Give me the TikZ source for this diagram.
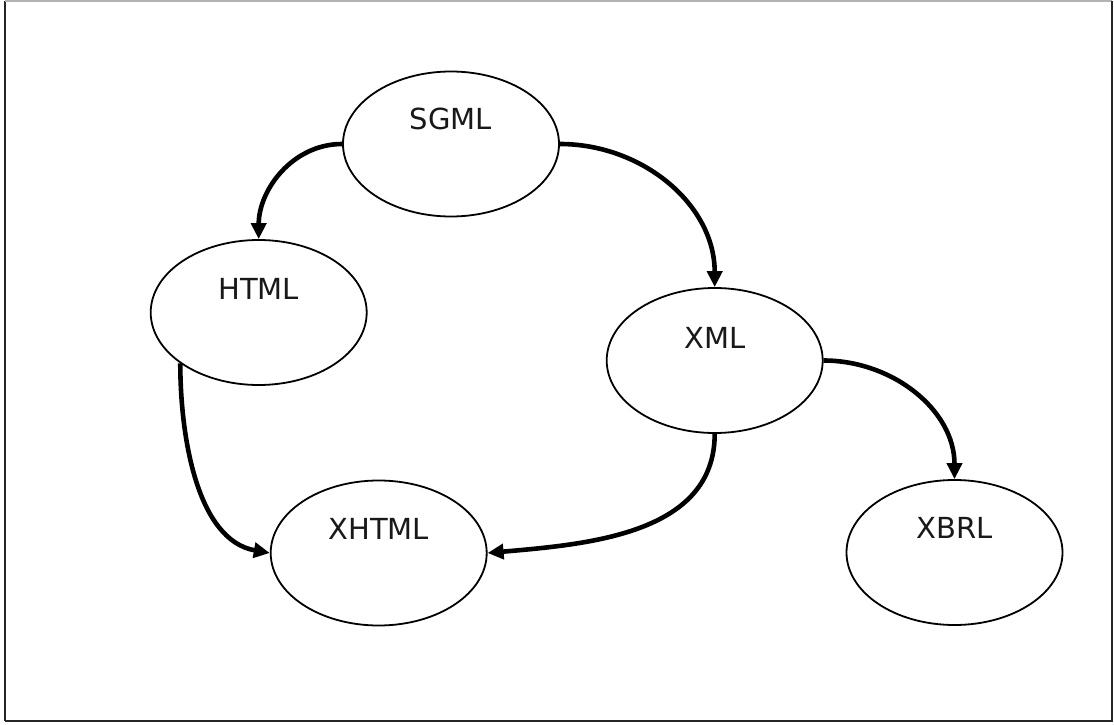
\documentclass[tikz,border=0pt]{standalone}
\usepackage{fontspec}
\setmainfont{DejaVu Sans}
\usetikzlibrary{shapes.geometric,arrows.meta}
\tikzset{
  bubble/.style={draw=black, line width=1.8pt, ellipse, minimum width=216pt, minimum height=145pt, inner sep=0pt, fill=white},
  lbl/.style={font=\fontsize{29}{33}\selectfont, text=black!90, inner sep=0pt},
  link/.style={line width=4.6pt, -{Triangle[length=16pt,width=15pt]}}
}
\begin{document}
\begin{tikzpicture}[x=1pt,y=-1pt]
\useasboundingbox (0,0) rectangle (1114,725);
\fill[white] (0,0) rectangle (1114,725);
% frame
\draw[line width=2pt, black!85] (5,721) -- (5,1);
\draw[line width=1.5pt, black!30] (5,0.8) -- (1112,0.8);
\draw[line width=2pt, black!85] (1112,1) -- (1112,721) -- (5,721);
% nodes
\node[bubble] (sgml) at (451,144) {};
\node[bubble] (html) at (258.7,312.5) {};
\node[bubble] (xml) at (714.7,360.5) {};
\node[bubble] (xhtml) at (378.7,553) {};
\node[bubble] (xbrl) at (954.5,552.5) {};
\node[lbl] (sgmlt) at ([yshift=25pt]sgml.center) {SGML};
\node[lbl] (htmlt) at ([yshift=24pt]html.center) {HTML};
\node[lbl] (xmlt) at ([yshift=23pt]xml.center) {XML};
\node[lbl] (xhtmlt) at ([yshift=24pt]xhtml.center) {XHTML};
\node[lbl] (xbrlt) at ([yshift=25pt]xbrl.center) {XBRL};
% connectors
\draw[link] (sgml.west) to[out=180,in=90] (html.north);
\draw[link] (sgml.east) to[out=0,in=90] (xml.north);
\draw[link] (html.213) to[out=-90,in=170,looseness=0.9] (xhtml.west);
\draw[link] (xml.south) to[out=-90,in=5] (xhtml.east);
\draw[link] (xml.east) to[out=0,in=90] (xbrl.north);
\end{tikzpicture}
\end{document}
